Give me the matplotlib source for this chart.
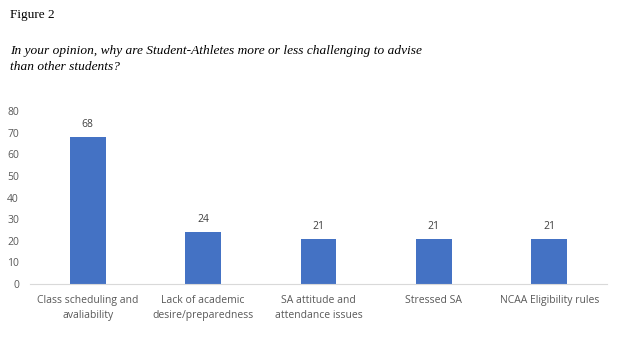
import matplotlib
matplotlib.use("Agg")
import matplotlib.pyplot as plt

categories = ["Class scheduling and\navaliability", "Lack of academic\ndesire/preparedness",
              "SA attitude and\nattendance issues", "Stressed SA", "NCAA Eligibility rules"]
values = [68, 24, 21, 21, 21]
yticks = [0, 10, 20, 30, 40, 50, 60, 70, 80]

W, H = 623, 340
fig = plt.figure(figsize=(W/100, H/100), dpi=100)
ax = fig.add_axes([30/W, 56/H, 577/W, 173/H])

x = list(range(len(categories)))
bars = ax.bar(x, values, width=0.31, color="#4472C4")
ax.set_xlim(-0.5, len(categories)-0.5)
ax.set_ylim(0, 80)
ax.set_yticks(yticks)
ax.set_xticks(x)
ax.set_xticklabels(categories, fontsize=7.5, color="#595959", family="Open Sans", linespacing=1.5)
for lab in ax.get_yticklabels():
    lab.set_fontsize(7.5); lab.set_color("#595959"); lab.set_family("Open Sans")
ax.tick_params(length=0, pad=8)
ax.tick_params(axis='x', pad=8)
for s in ["top", "right", "left"]:
    ax.spines[s].set_visible(False)
ax.spines["bottom"].set_color("#d9d9d9")
for xi, v in zip(x, values):
    ax.annotate(str(v), (xi, v), xytext=(0, 5), textcoords="offset points",
                ha="center", va="bottom", fontsize=7.5, color="#404040", family="Open Sans")

fig.text(10/W, 1-15/H, "Figure 2", ha="left", va="center", fontsize=9.5, family="Liberation Serif")
fig.text(10/W, 1-45/H, "In your opinion, why are Student-Athletes more or less challenging to advise\nthan other students?",
         ha="left", va="top", fontsize=9.6, family="Liberation Serif", style="italic", linespacing=1.45)

fig.savefig("out.png", dpi=100)
